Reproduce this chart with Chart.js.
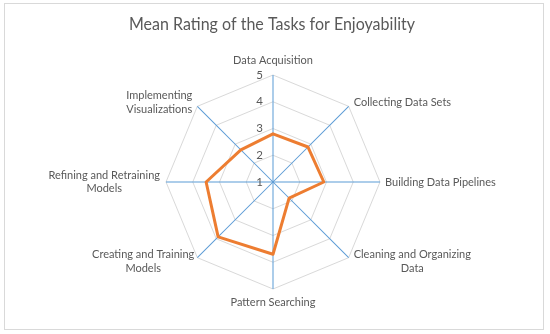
<!DOCTYPE html>
<html>
<head>
<meta charset="utf-8">
<script src="https://cdn.jsdelivr.net/npm/chart.js@4/dist/chart.umd.min.js"></script>
<style>
html,body{margin:0;padding:0;background:#fff;}
#c{display:block;}
</style>
</head>
<body>
<canvas id="c" width="550" height="334"></canvas>
<script>
const chartTitle = 'Mean Rating of the Tasks for Enjoyability';
const categories = [
  'Data Acquisition',
  'Collecting Data Sets',
  'Building Data Pipelines',
  ['Cleaning and Organizing', 'Data'],
  'Pattern Searching',
  ['Creating and Training', 'Models'],
  ['Refining and Retraining', 'Models'],
  ['Implementing', 'Visualizations']
];
const meanRatings = [2.8, 2.85, 2.9, 1.85, 3.7, 3.9, 3.5, 2.7];
const scaleMin = 1;
const scaleMax = 5;

const TEXT = '#595959';
const FONT = 'Lato, "Liberation Sans", sans-serif';

const decor = {
  id: 'decor',
  beforeDraw(chart) {
    const ctx = chart.ctx;
    ctx.save();
    ctx.fillStyle = '#fff';
    ctx.fillRect(0, 0, chart.width, chart.height);
    ctx.strokeStyle = '#D9D9D9';
    ctx.lineWidth = 1;
    ctx.strokeRect(4.5, 3.5, 539, 326);
    ctx.fillStyle = TEXT;
    ctx.font = '17px ' + FONT;
    ctx.textAlign = 'center';
    ctx.textBaseline = 'alphabetic';
    ctx.fillText(chartTitle, 272, 29.5, 286);
    ctx.restore();
  },
  beforeDatasetsDraw(chart) {
    const ctx = chart.ctx;
    const s = chart.scales.r;
    const R = s.getDistanceFromCenterForValue(scaleMax);
    const cx = s.xCenter, cy = s.yCenter;
    ctx.save();
    ctx.fillStyle = 'rgb(91,155,213)';
    categories.forEach((lab, i) => {
      const p = s.getPointPosition(i, R);
      const dx = p.x - cx, dy = p.y - cy;
      const len = Math.hypot(dx, dy);
      const nx = -dy / len * 0.5, ny = dx / len * 0.5;
      ctx.beginPath();
      ctx.moveTo(cx + nx, cy + ny);
      ctx.lineTo(p.x + nx, p.y + ny);
      ctx.lineTo(p.x - nx, p.y - ny);
      ctx.lineTo(cx - nx, cy - ny);
      ctx.closePath();
      ctx.fill();
    });
    ctx.restore();
  },
  afterDatasetsDraw(chart) {
    const ctx = chart.ctx;
    const s = chart.scales.r;
    const R = s.drawingArea;
    ctx.save();
    ctx.fillStyle = TEXT;
    // tick labels
    ctx.font = '11.5px ' + FONT;
    ctx.textAlign = 'right';
    ctx.textBaseline = 'middle';
    s.ticks.forEach(t => {
      const d = s.getDistanceFromCenterForValue(t.value);
      ctx.fillText(String(t.value), s.xCenter - 10, s.yCenter - d);
    });
    // point labels
    const lh = 13.5;
    ctx.font = '11px ' + FONT;
    ctx.textBaseline = 'middle';
    categories.forEach((lab, i) => {
      const lines = Array.isArray(lab) ? lab : [lab];
      const p = s.getPointPosition(i, R);
      const n = lines.length;
      const widths = lines.map(l => ctx.measureText(l).width);
      const bw = Math.max(...widths);
      const bh = n * lh;
      let cx, cy;
      const ang = i * 45;
      if (ang === 0) { cx = p.x; cy = p.y - 8 - bh / 2; }
      else if (ang === 180) { cx = p.x; cy = p.y + 7 + bh / 2; }
      else if (ang === 90) { cx = p.x + 5 + bw / 2; cy = p.y; }
      else if (ang === 270) { cx = p.x - 6 - bw / 2; cy = p.y; }
      else if (ang === 45) { cx = p.x + 5 + bw / 2; cy = p.y - 4; }
      else if (ang === 135) { cx = p.x + 5 + bw / 2; cy = p.y + 4; }
      else if (ang === 225) { cx = p.x - 3 - bw / 2; cy = p.y + 4; }
      else { cx = p.x - 5 - bw / 2; cy = p.y - 4; }
      ctx.textAlign = 'center';
      lines.forEach((l, k) => {
        ctx.fillText(l, cx, cy - bh / 2 + lh / 2 + k * lh);
      });
    });
    ctx.restore();
  }
};

new Chart(document.getElementById('c'), {
  type: 'radar',
  data: {
    labels: categories,
    datasets: [{
      label: 'Mean Rating',
      data: meanRatings,
      borderColor: '#ED7D31',
      backgroundColor: 'rgba(0,0,0,0)',
      borderWidth: 3,
      borderJoinStyle: 'round',
      pointRadius: 0,
      pointHoverRadius: 0,
      fill: false,
      tension: 0
    }]
  },
  options: {
    responsive: false,
    animation: false,
    devicePixelRatio: 1,
    layout: { padding: { top: 75, bottom: 45, left: 166, right: 170 } },
    plugins: {
      legend: { display: false },
      title: { display: false },
      tooltip: { enabled: false }
    },
    scales: {
      r: {
        min: scaleMin,
        max: scaleMax,
        ticks: { display: false, stepSize: 1 },
        pointLabels: { display: false },
        grid: { color: '#D9D9D9', lineWidth: 1, circular: false },
        angleLines: { display: false }
      }
    }
  },
  plugins: [decor]
});
</script>
</body>
</html>
